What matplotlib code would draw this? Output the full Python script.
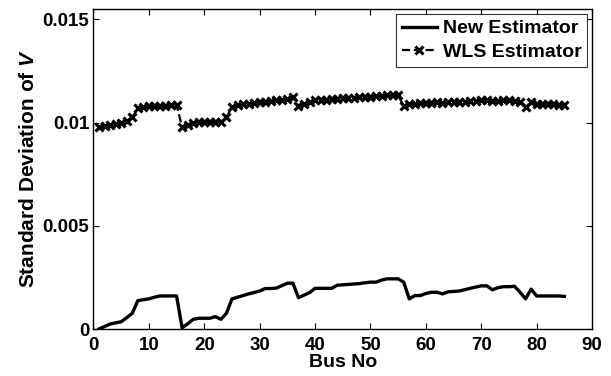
import numpy as np
import matplotlib
matplotlib.use("Agg")
import matplotlib.pyplot as plt
from matplotlib.ticker import FuncFormatter

plt.rcParams['font.family'] = ['Liberation Sans', 'DejaVu Sans']
plt.rcParams['font.weight'] = 'bold'
plt.rcParams['mathtext.fontset'] = 'custom'
plt.rcParams['mathtext.it'] = 'Liberation Sans:bold:italic'
plt.rcParams['mathtext.rm'] = 'Liberation Sans:bold'

# bus numbers 1..85
bus = np.arange(1, 86)

# std deviation of V, proposed estimator
new_est = [
    0.00000, 0.00012, 0.00024, 0.00030, 0.00035, 0.00055, 0.00076, 0.00137, 0.00142, 0.00146,
    0.00154, 0.00160, 0.00160, 0.00160, 0.00160, 0.00006, 0.00025, 0.00047, 0.00052, 0.00052,
    0.00052, 0.00060, 0.00047, 0.00076, 0.00146, 0.00154, 0.00162, 0.00170, 0.00177, 0.00184,
    0.00196, 0.00196, 0.00198, 0.00210, 0.00222, 0.00222, 0.00152, 0.00164, 0.00176, 0.00197,
    0.00197, 0.00197, 0.00197, 0.00212, 0.00214, 0.00216, 0.00218, 0.00220, 0.00224, 0.00227,
    0.00227, 0.00237, 0.00243, 0.00243, 0.00243, 0.00227, 0.00146, 0.00162, 0.00162, 0.00172,
    0.00178, 0.00178, 0.00170, 0.00180, 0.00182, 0.00184, 0.00190, 0.00197, 0.00203, 0.00209,
    0.00209, 0.00190, 0.00200, 0.00205, 0.00205, 0.00207, 0.00178, 0.00146, 0.00193, 0.00160,
    0.00160, 0.00160, 0.00160, 0.00160, 0.00158,
]

# std deviation of V, WLS estimator
wls_est = [
    0.00978, 0.00983, 0.00990, 0.00995, 0.01000, 0.01008, 0.01025, 0.01070, 0.01075, 0.01078,
    0.01080, 0.01080, 0.01082, 0.01083, 0.01085, 0.00978, 0.00990, 0.01000, 0.01002, 0.01002,
    0.01002, 0.01002, 0.01005, 0.01025, 0.01075, 0.01085, 0.01090, 0.01092, 0.01095, 0.01100,
    0.01102, 0.01105, 0.01108, 0.01110, 0.01115, 0.01122, 0.01082, 0.01090, 0.01100, 0.01108,
    0.01110, 0.01110, 0.01112, 0.01115, 0.01118, 0.01120, 0.01120, 0.01122, 0.01124, 0.01126,
    0.01128, 0.01130, 0.01132, 0.01134, 0.01132, 0.01080, 0.01090, 0.01092, 0.01094, 0.01095,
    0.01097, 0.01098, 0.01097, 0.01098, 0.01100, 0.01100, 0.01102, 0.01104, 0.01106, 0.01108,
    0.01108, 0.01104, 0.01106, 0.01108, 0.01108, 0.01106, 0.01098, 0.01075, 0.01100, 0.01090,
    0.01088, 0.01088, 0.01088, 0.01086, 0.01085,
]

fig = plt.figure(figsize=(6.11, 3.76), dpi=100)
ax = fig.add_axes([0.153, 0.125, 0.816, 0.851])

ax.plot(bus, new_est, '-', color='k', lw=2.4, label='New Estimator')
ax.plot(bus, wls_est, '--x', color='k', lw=1.6, ms=5.5, mew=2.2, label='WLS Estimator')

ax.set_xlim(0, 90)
ax.set_ylim(0, 0.0155)
ax.set_xticks(np.arange(0, 91, 10))
ax.set_yticks([0, 0.005, 0.01, 0.015])
ax.yaxis.set_major_formatter(FuncFormatter(lambda v, p: '0' if v == 0 else ('%g' % v)))
ax.tick_params(direction='in', top=True, right=True, labelsize=13.5, length=4, width=0.8)
ax.tick_params(axis='x', pad=6)
ax.tick_params(axis='y', pad=3)
for lab in ax.get_xticklabels() + ax.get_yticklabels():
    lab.set_fontweight('bold')
for s in ax.spines.values():
    s.set_linewidth(1.0)

ax.set_xlabel('Bus No', fontsize=14, fontweight='bold', labelpad=0)
ax.set_ylabel(r'Standard Deviation of $V$', fontsize=15, fontweight='bold', labelpad=3)

leg = ax.legend(loc='upper right', fontsize=14, frameon=True, fancybox=False,
                edgecolor='k', handlelength=1.8, borderpad=0.3, labelspacing=0.3,
                handletextpad=0.3, borderaxespad=0.25)
leg.get_frame().set_linewidth(0.8)
for t in leg.get_texts():
    t.set_fontweight('bold')

fig.savefig('out.png', dpi=100)
